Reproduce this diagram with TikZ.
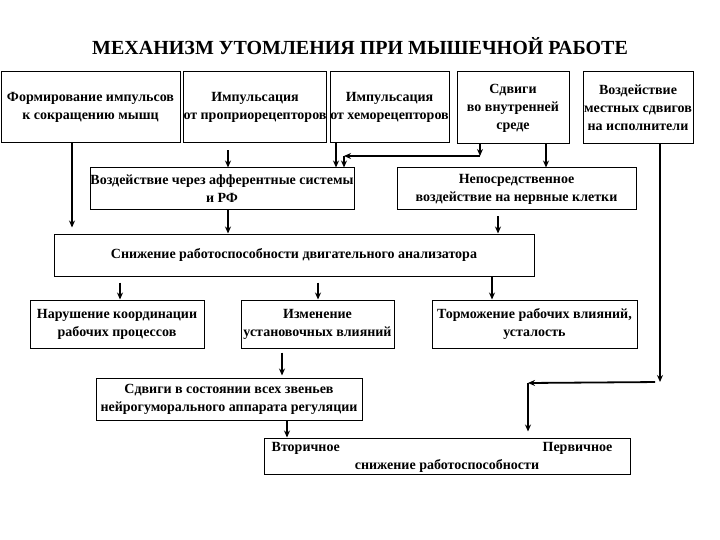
\documentclass[tikz,border=0pt]{standalone}
\usepackage{fontspec}
\setmainfont{Liberation Serif}
\usetikzlibrary{positioning,arrows.meta}
\newcommand{\bnode}[5]{\node [box, minimum width=#3pt, minimum height=#4pt] (#1) at (#2) {#5}}

\begin{document}
\begin{tikzpicture}[x=1pt, y=-1pt, >={Stealth[length=7pt,width=6pt]},
  box/.style={draw, line width=1pt, align=center, inner sep=0pt, font=\bfseries\fontsize{14}{18}\selectfont},
  arr/.style={->, line width=1.8pt},
  lbl/.style={inner sep=0pt, font=\bfseries\fontsize{14}{18}\selectfont}]

\useasboundingbox (0,0) rectangle (720,540);

\node [font=\bfseries\fontsize{20}{24}\selectfont] (TITLE) at (360,46) {МЕХАНИЗМ УТОМЛЕНИЯ ПРИ МЫШЕЧНОЙ РАБОТЕ};

\bnode{FORM}{90.5,107.5}{179}{71}{Формирование импульсов\\к сокращению мышц};
\bnode{PROP}{255,107.5}{138}{71}{Импульсация\\от проприорецепторов};
\bnode{CHEM}{389.5,107.5}{119}{71}{Импульсация\\от хеморецепторов};
\bnode{SHIFT}{513,108}{112}{72}{Сдвиги\\во внутренней\\среде};
\bnode{LOCAL}{638,108}{110}{72}{Воздействие\\местных сдвигов\\на исполнители};

\bnode{AFF}{222,189}{264}{42}{Воздействие через афферентные системы\\и РФ};
\bnode{DIRECT}{516.5,189}{239}{42}{Непосредственное\\воздействие на нервные клетки};

\bnode{DECL}{294,255}{480}{42}{Снижение работоспособности двигательного анализатора};

\bnode{COORD}{117,324}{174}{48}{Нарушение координации\\рабочих процессов};
\bnode{SET}{317.5,324}{153}{48}{Изменение\\установочных влияний};
\bnode{INHIB}{534.5,324}{205}{48}{Торможение рабочих влияний,\\усталость};

\bnode{NEURO}{229,399}{266}{42}{Сдвиги в состоянии всех звеньев\\нейрогуморального аппарата регуляции};
\bnode{RESULT}{447,456}{366}{36}{};

\node [lbl, below right=5pt and 8pt of RESULT.north west] (SEC) {Вторичное};
\node [lbl, below left=5pt and 18pt of RESULT.north east] (PRIM) {Первичное};
\node [lbl, above=2pt of RESULT.south] (DROP) {снижение работоспособности};

\coordinate (BUSR) at (480,156);
\coordinate (BUSL) at (344,156);
\coordinate (TURNR) at (660,382);
\coordinate (TURNL) at (528,383);

\draw[arr, shorten >=6pt] (FORM.south -| 72,0) -- (DECL.north -| 72,0);
\draw[arr, shorten <=7pt] (PROP.south -| 228,0) -- (AFF.north -| 228,0);
\draw[arr] (CHEM.south -| 336,0) -- (AFF.north -| 336,0);
\draw[arr] (SHIFT.south -| BUSR) -- (BUSR);
\draw[arr] (BUSR) -- (BUSL);
\draw[arr] (BUSL) -- (AFF.north -| BUSL);
\draw[arr] (SHIFT.south -| 546,0) -- (DIRECT.north -| 546,0);

\draw[arr] (LOCAL.south -| TURNR) -- (TURNR);
\draw[arr, shorten <=5pt] (TURNR) -- (TURNL);
\draw[arr, shorten >=6pt] (TURNL) -- (RESULT.north -| TURNL);

\draw[arr] (AFF.south -| 228,0) -- (DECL.north -| 228,0);
\draw[arr, shorten <=6pt] (DIRECT.south -| 498,0) -- (DECL.north -| 498,0);

\draw[arr, shorten <=6pt] (DECL.south -| 120,0) -- (COORD.north -| 120,0);
\draw[arr, shorten <=6pt] (DECL.south -| 318,0) -- (SET.north -| 318,0);
\draw[arr] (DECL.south -| 492,0) -- (INHIB.north -| 492,0);

\draw[arr, shorten <=4pt, shorten >=2pt] (SET.south -| 282,0) -- (NEURO.north -| 282,0);
\draw[arr] (NEURO.south -| 287,0) -- (RESULT.north -| 287,0);

\end{tikzpicture}
\end{document}
